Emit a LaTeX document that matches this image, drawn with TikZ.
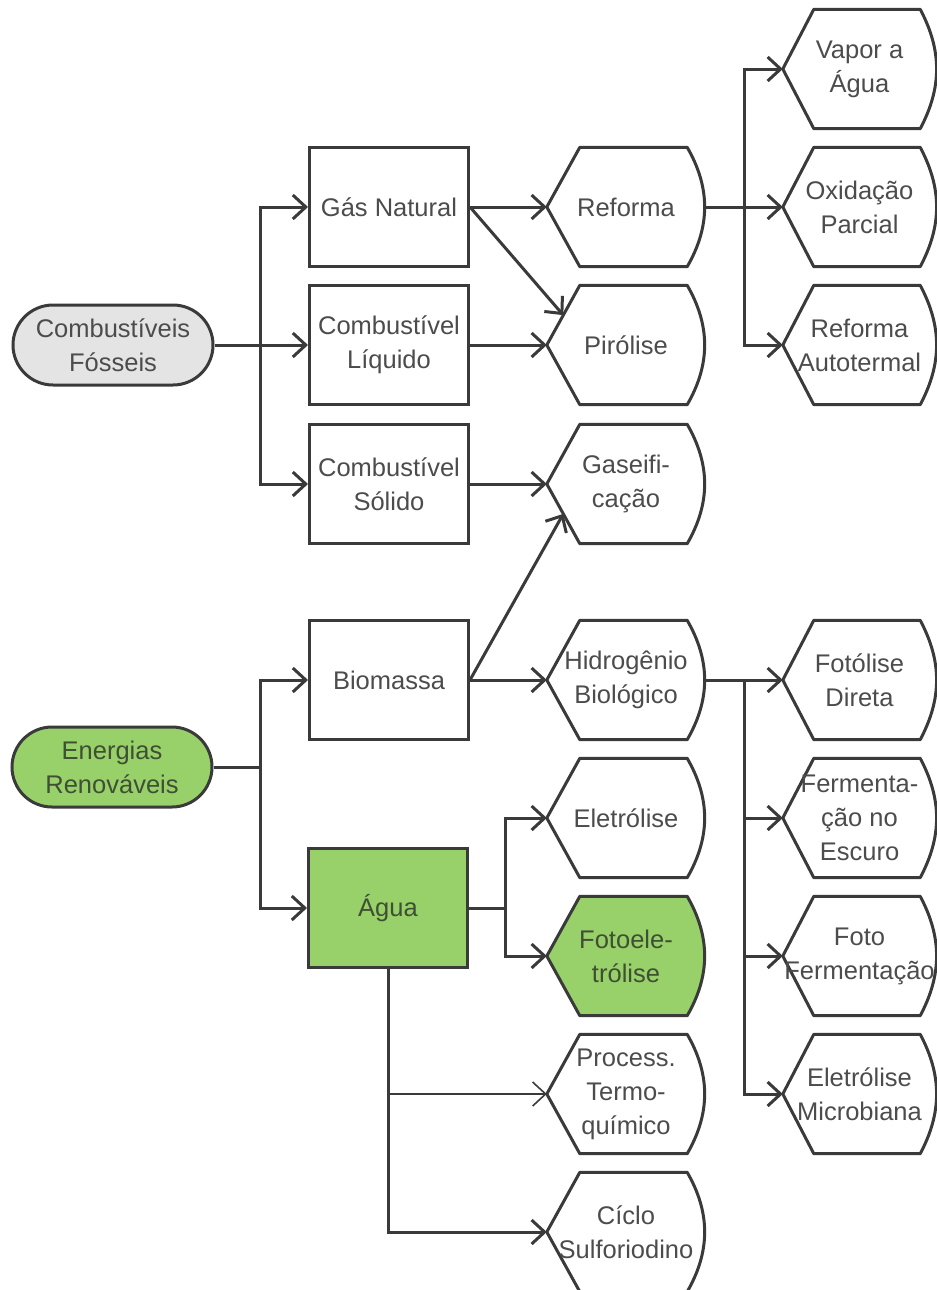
\documentclass[tikz,border=0pt]{standalone}
\usepackage{fontspec}
\setmainfont{Liberation Sans}
\usetikzlibrary{arrows.meta,calc,backgrounds}
\definecolor{ln}{HTML}{3A3A3A}
\definecolor{tx}{HTML}{4C4C4C}
\definecolor{gtx}{HTML}{3E4F33}
\definecolor{grn}{RGB}{152,208,106}
\definecolor{gry}{HTML}{E4E4E4}
\begin{document}
\begin{tikzpicture}[x=1bp,y=-1bp,
  every node/.style={font=\fontsize{25.5bp}{34bp}\selectfont, text=tx, align=center, inner sep=0pt},
  src/.style={draw=ln, line width=3bp, rounded corners=40bp, minimum width=200bp, minimum height=80bp},
  box/.style={draw=ln, line width=3bp, fill=white, minimum width=159bp, minimum height=119bp},
  proc/.style={minimum width=158bp, minimum height=119bp},
  procr/.style={minimum width=153bp, minimum height=119bp},
  link/.style={draw=ln, line width=3bp},
  arr/.style={link, -{Straight Barb[length=13bp,width=24bp]}},
  shp/.style={draw=ln, line width=3bp, line join=round},
]
\useasboundingbox (0,0) rectangle (937,1290);

% sources
\node[src, fill=gry] (fos) at (113,345) {Combustíveis\\Fósseis};
\node[src, fill=grn, text=gtx] (ren) at (112,767) {Energias\\Renováveis};

% column 2
\node[box] (gn)  at (389,207) {Gás Natural};
\node[box] (liq) at (389,345) {Combustível\\Líquido};
\node[box] (sol) at (389,484) {Combustível\\Sólido};
\node[box] (bio) at (389,680) {Biomassa};
\node[box, fill=grn, text=gtx] (agua) at (388,908) {Água};

% column 3
\node[proc] (ref) at (626,207) {Reforma};
\node[proc] (pir) at (626,345) {Pirólise};
\node[proc] (gas) at (626,484) {Gaseifi-\\cação};
\node[proc] (hid) at (626,680) {Hidrogênio\\Biológico};
\node[proc] (ele) at (626,818) {Eletrólise};
\node[proc, text=gtx] (fel) at (626,956) {Fotoele-\\trólise};
\node[proc] (pro) at (626,1094) {Process.\\Termo-\\químico};
\node[proc] (cic) at (626,1232) {Cíclo\\Sulforiodino};

% column 4
\node[procr] (vap)  at (859.5,69)  {Vapor a\\Água};
\node[procr] (oxi)  at (859.5,207) {Oxidação\\Parcial};
\node[procr] (aut)  at (859.5,345) {Reforma\\Autotermal};
\node[procr] (fdir) at (859.5,680) {Fotólise\\Direta};
\node[procr] (ferm) at (859.5,818) {Fermenta-\\ção no\\Escuro};
\node[procr] (ffer) at (859.5,956) {Foto\\Fermentação};
\node[procr] (emic) at (859.5,1094) {Eletrólise\\Microbiana};

% outlines of process shapes
\begin{pgfonlayer}{background}
\foreach \n/\f in {ref/white,pir/white,gas/white,hid/white,ele/white,fel/grn,pro/white,cic/white}
  \draw[shp, fill=\f] (\n.west) -- ([xshift=33bp]\n.north west) -- ([xshift=-18bp]\n.north east)
    to[bend left=30] ([xshift=-18bp]\n.south east) -- ([xshift=33bp]\n.south west) -- cycle;
\foreach \n in {vap,oxi,aut,fdir,ferm,ffer,emic}
  \draw[shp, fill=white] (\n.west) -- ([xshift=31bp]\n.north west) -- ([xshift=-16bp]\n.north east)
    to[bend left=28] ([xshift=-16bp]\n.south east) -- ([xshift=31bp]\n.south west) -- cycle;
\end{pgfonlayer}

% junctions
\coordinate (ja) at (260,0);
\coordinate (jb) at (505,0);
\coordinate (jc) at (744,0);

% fossil fuels
\draw[arr] (fos.east) -- (liq.west);
\draw[arr] (ja |- fos.east) |- (gn.west);
\draw[arr] (ja |- fos.east) |- (sol.west);

\draw[arr] (gn.east) -- (ref.west);
\draw[arr] (gn.east) -- ($(pir.west)!0.5!([xshift=33bp]pir.north west)$);
\draw[arr] (liq.east) -- (pir.west);
\draw[arr] (sol.east) -- (gas.west);

\draw[arr] (ref.east) -- (oxi.west);
\draw[arr] (jc |- ref.east) |- (vap.west);
\draw[arr] (jc |- ref.east) |- (aut.west);

% renewables
\draw[link] (ren.east) -- (ja |- ren.east);
\draw[arr] (ja |- ren.east) |- (bio.west);
\draw[arr] (ja |- ren.east) |- (agua.west);

\draw[arr] (bio.east) -- ($(gas.west)!0.5!([xshift=33bp]gas.south west)$);
\draw[arr] (bio.east) -- (hid.west);

\draw[arr] (hid.east) -- (fdir.west);
\draw[arr] (jc |- hid.east) |- (ferm.west);
\draw[arr] (jc |- hid.east) |- (ffer.west);
\draw[arr] (jc |- hid.east) |- (emic.west);

\draw[link] (agua.east) -- (jb |- agua.east);
\draw[arr] (jb |- agua.east) |- (ele.west);
\draw[arr] (jb |- agua.east) |- (fel.west);

\draw[arr] (agua.south) |- (cic.west);
\draw[arr, line width=1.6bp] (agua.south |- pro.west) -- (pro.west);
\end{tikzpicture}
\end{document}
